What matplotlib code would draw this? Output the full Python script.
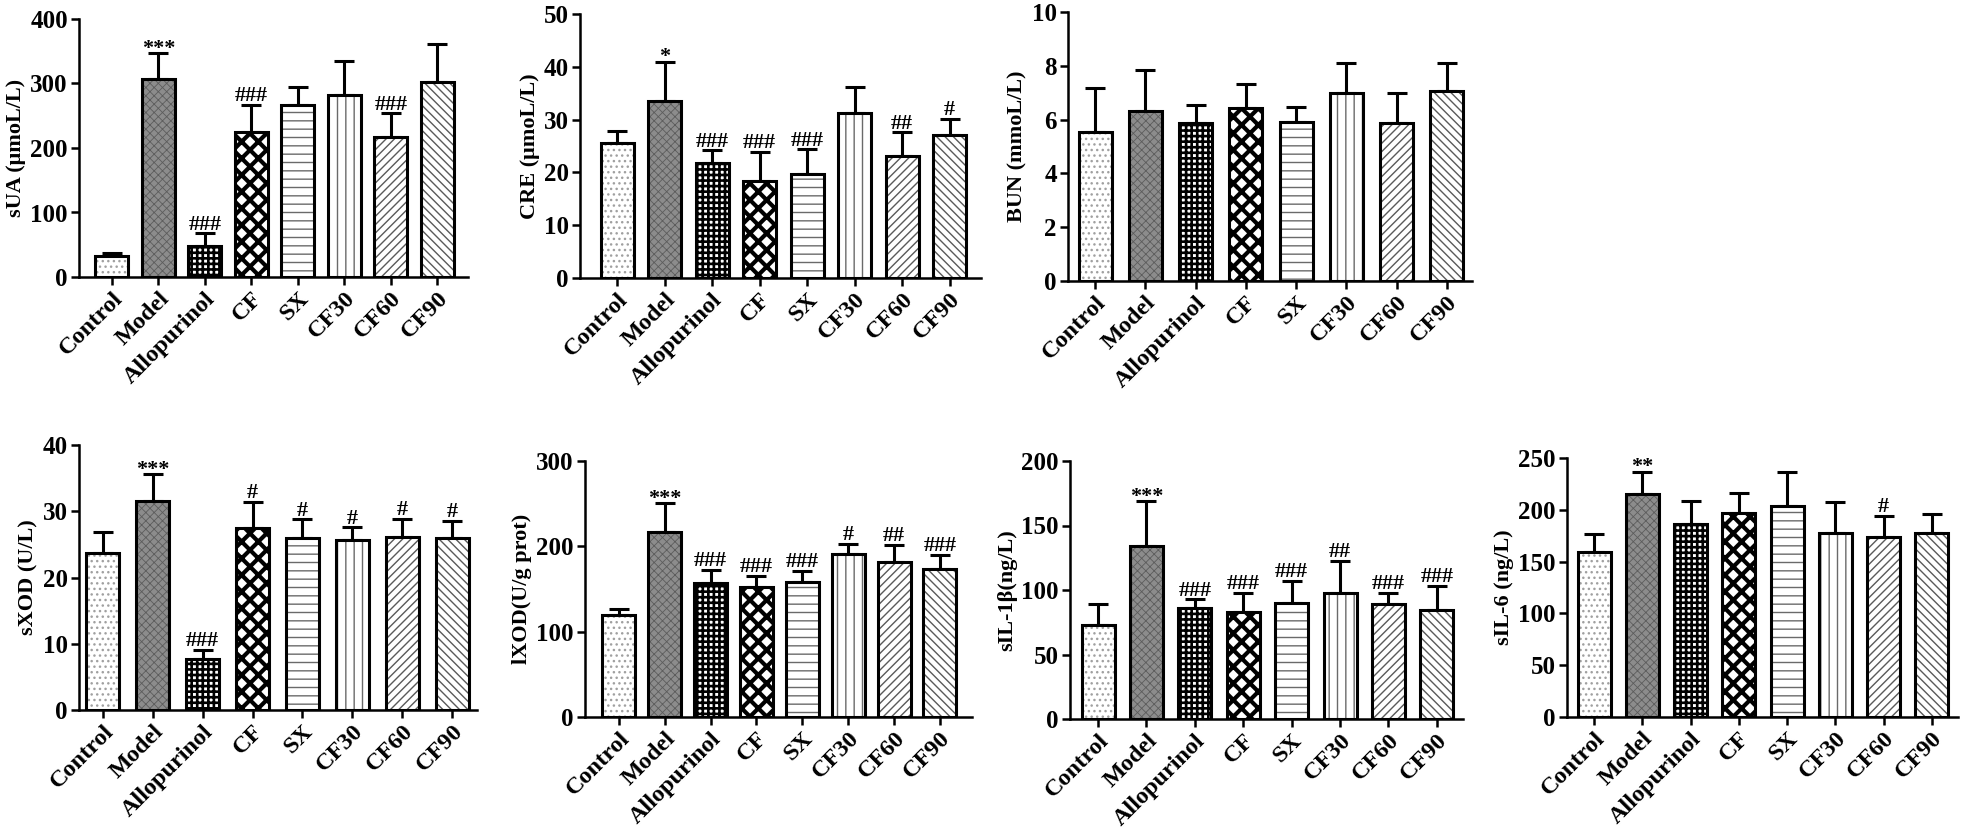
import numpy as np
import matplotlib
matplotlib.use("Agg")
from matplotlib import pyplot as plt

plt.rcParams["font.family"] = ["Liberation Serif", "DejaVu Serif"]
plt.rcParams["font.weight"] = "bold"
plt.rcParams["axes.labelweight"] = "bold"

groups = ["Control", "Model", "Allopurinol", "CF", "SX", "CF30", "CF60", "CF90"]

# values (mean, upper SD) and significance marks
sua_mean = [32, 307, 48, 225, 266, 282, 217, 302]
sua_err = [5, 40, 20, 42, 29, 53, 37, 59]
sua_marks = ["", "***", "###", "###", "", "", "###", ""]

cre_mean = [25.5, 33.6, 21.8, 18.4, 19.7, 31.2, 23.2, 27.1]
cre_err = [2.4, 7.4, 2.4, 5.5, 4.7, 4.9, 4.4, 3.0]
cre_marks = ["", "*", "###", "###", "###", "", "##", "#"]

bun_mean = [5.53, 6.33, 5.88, 6.42, 5.91, 6.98, 5.88, 7.07]
bun_err = [1.63, 1.50, 0.65, 0.90, 0.57, 1.14, 1.10, 1.02]
bun_marks = ["", "", "", "", "", "", "", ""]

sxod_mean = [23.7, 31.6, 7.7, 27.4, 25.9, 25.6, 26.1, 26.0]
sxod_err = [3.2, 4.0, 1.4, 4.0, 2.9, 2.0, 2.8, 2.6]
sxod_marks = ["", "***", "###", "#", "#", "#", "#", "#"]

lxod_mean = [119.5, 216.4, 156.7, 152.0, 158.6, 191.0, 182.0, 173.4]
lxod_err = [6.7, 34.0, 15.6, 13.2, 12.9, 11.7, 19.6, 16.4]
lxod_marks = ["", "***", "###", "###", "###", "#", "##", "###"]

il1b_mean = [72.9, 134.1, 86.3, 82.7, 89.7, 97.9, 88.9, 84.5]
il1b_err = [16.2, 34.9, 6.5, 15.2, 17.3, 24.6, 9.0, 18.8]
il1b_marks = ["", "***", "###", "###", "###", "##", "###", "###"]

il6_mean = [159.6, 215.0, 186.3, 196.6, 204.0, 177.3, 173.5, 177.3]
il6_err = [16.7, 21.8, 22.5, 19.3, 32.8, 30.5, 20.5, 18.7]
il6_marks = ["", "**", "", "", "", "", "#", ""]

# fill style of each group: face, hatch, hatch colour, hatch line width
styles = [
    ("white", "...", "#a0a0a0", 1.0),
    ("#8c8c8c", "xxxx", "#5c5c5c", 0.6),
    ("white", "+++", "black", 1.9),
    ("white", "xx", "black", 3.0),
    ("white", "--", "#6a6a6a", 1.0),
    ("white", "||", "#6a6a6a", 1.0),
    ("white", "////", "#5a5a5a", 1.0),
    ("white", "\\\\\\\\", "#5a5a5a", 1.0),
]

W, H = 1962, 838
fig = plt.figure(figsize=(W / 100, H / 100), dpi=100)

# panel boxes in pixels: x axis start, x end, top y, zero y; x limits
panels = [
    (sua_mean, sua_err, sua_marks, "sUA (μmoL/L)", 400, 100, (79, 468, 19, 277), (-0.71, 7.66)),
    (cre_mean, cre_err, cre_marks, "CRE (μmoL/L)", 50, 10, (580, 981, 14, 278), (-0.78, 7.66)),
    (bun_mean, bun_err, bun_marks, "BUN (mmoL/L)", 10, 2, (1068, 1472, 12, 281), (-0.54, 7.5)),
    (sxod_mean, sxod_err, sxod_marks, "sXOD (U/L)", 40, 10, (79, 477, 445, 710), (-0.48, 7.5)),
    (lxod_mean, lxod_err, lxod_marks, "lXOD(U/g prot)", 300, 100, (585, 972, 461, 717), (-0.74, 7.7)),
    (il1b_mean, il1b_err, il1b_marks, "sIL-1β(ng/L)", 200, 50, (1070, 1463, 461, 719), (-0.58, 7.54)),
    (il6_mean, il6_err, il6_marks, "sIL-6 (ng/L)", 250, 50, (1567, 1958, 458, 717), (-0.56, 7.54)),
]

x = np.arange(len(groups))

for means, errs, marks, ylabel, ymax, ystep, box, xlim in panels:
    x0, x1, ytop, y0 = box
    ax = fig.add_axes([x0 / W, 1 - y0 / H, (x1 - x0) / W, (y0 - ytop) / H])
    step_px = (x1 - x0) / (xlim[1] - xlim[0])
    width = 33 / step_px

    for i, (m, e) in enumerate(zip(means, errs)):
        face, hatch, hcol, hlw = styles[i]
        bars = ax.bar(i, m, width=width, color=face, edgecolor=hcol, hatch=hatch,
                      linewidth=0, zorder=2)
        for b in bars:
            if hasattr(b, "set_hatch_linewidth"):
                b.set_hatch_linewidth(hlw)
        ax.bar(i, m, width=width, fill=False, edgecolor="black", linewidth=2.2, zorder=3)

    ax.errorbar(x, means, yerr=[np.zeros(len(errs)), errs], fmt="none", ecolor="black",
                elinewidth=2.2, capsize=7, capthick=2.2, zorder=1)

    for i, mk in enumerate(marks):
        if not mk:
            continue
        off = -4 if "*" in mk else -1
        ax.annotate(mk, (i, means[i] + errs[i]), xytext=(0, off), textcoords="offset points",
                    ha="center", va="bottom", fontsize=16, fontweight="bold")

    ax.set_xlim(*xlim)
    ax.set_ylim(0, ymax)
    ax.set_yticks(np.arange(0, ymax + ystep / 2, ystep))
    ax.set_xticks(x)
    ax.set_xticklabels(groups, rotation=45, ha="right", rotation_mode="anchor",
                       fontsize=17.5, fontweight="bold")
    for t in ax.get_yticklabels():
        t.set_fontsize(18)
        t.set_fontweight("bold")
    ax.set_ylabel(ylabel, fontsize=16, fontweight="bold", labelpad=3)

    for side in ["top", "right"]:
        ax.spines[side].set_visible(False)
    for side in ["left", "bottom"]:
        ax.spines[side].set_linewidth(1.8)
    ax.tick_params(direction="out", length=6, width=1.8, pad=2)
    ax.patch.set_alpha(0)

fig.savefig("out.png", dpi=100)
